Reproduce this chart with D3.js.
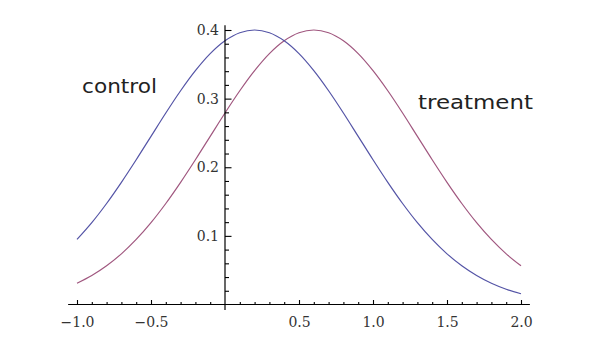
<!DOCTYPE html>
<html>
<head>
<meta charset="utf-8">
<script src="https://cdn.jsdelivr.net/npm/d3@7"></script>
<style>
  html, body { margin: 0; padding: 0; background: #fff; }
  svg { display: block; }
</style>
</head>
<body>
<svg id="chart"></svg>
<script>
// sample points, step 0.1
const xs = [-1.0, -0.9, -0.8, -0.7, -0.6, -0.5, -0.4, -0.3, -0.2, -0.1,
  0.0, 0.1, 0.2, 0.3, 0.4, 0.5, 0.6, 0.7, 0.8, 0.9,
  1.0, 1.1, 1.2, 1.3, 1.4, 1.5, 1.6, 1.7, 1.8, 1.9, 2.0];
const control = [0.0948, 0.1193, 0.1472, 0.1780, 0.2109, 0.2450, 0.2791, 0.3115, 0.3408, 0.3656,
  0.3843, 0.3960, 0.4000, 0.3960, 0.3843, 0.3656, 0.3408, 0.3115, 0.2791, 0.2450,
  0.2109, 0.1780, 0.1472, 0.1193, 0.0948, 0.0738, 0.0564, 0.0422, 0.0309, 0.0222, 0.0157];
const treatment = [0.0309, 0.0422, 0.0564, 0.0738, 0.0948, 0.1193, 0.1472, 0.1780, 0.2109, 0.2450,
  0.2791, 0.3115, 0.3408, 0.3656, 0.3843, 0.3960, 0.4000, 0.3960, 0.3843, 0.3656,
  0.3408, 0.3115, 0.2791, 0.2450, 0.2109, 0.1780, 0.1472, 0.1193, 0.0948, 0.0738, 0.0564];
const xMajor = [-1.0, -0.5, 0.5, 1.0, 1.5, 2.0];
const xMinor = [-0.9, -0.8, -0.7, -0.6, -0.4, -0.3, -0.2, -0.1, 0.1, 0.2, 0.3, 0.4,
  0.6, 0.7, 0.8, 0.9, 1.1, 1.2, 1.3, 1.4, 1.6, 1.7, 1.8, 1.9];
const yMajor = [0.1, 0.2, 0.3, 0.4];
const yMinor = [0.02, 0.04, 0.06, 0.08, 0.12, 0.14, 0.16, 0.18, 0.22, 0.24, 0.26, 0.28,
  0.32, 0.34, 0.36, 0.38];

const width = 600, height = 345;
const svg = d3.select("#chart").attr("width", width).attr("height", height);

const x = d3.scaleLinear().domain([-1, 2]).range([77, 521]);
const y = d3.scaleLinear().domain([0, 0.4]).range([304.5, 30]);

const fmt = d3.format(".1f");
const tickFont = "'DejaVu Serif', serif";

// curves
const line = d3.line()
  .x((d, i) => x(xs[i]))
  .y(d => y(d))
  .curve(d3.curveCatmullRom);

svg.append("path").datum(treatment)
  .attr("d", line).attr("fill", "none")
  .attr("stroke", "#a0577f").attr("stroke-width", 1.2);

svg.append("path").datum(control)
  .attr("d", line).attr("fill", "none")
  .attr("stroke", "#5454a6").attr("stroke-width", 1.2);

// x axis (minor and major ticks in separate groups)
const gx = svg.append("g").attr("transform", `translate(0,${y(0)})`);
gx.append("g").call(d3.axisBottom(x).tickValues(xMinor).tickSize(-2.5).tickFormat(""));
gx.append("g").call(d3.axisBottom(x).tickValues(xMajor).tickSize(-4.5).tickPadding(12.5).tickFormat(fmt));
gx.selectAll(".domain").remove();
gx.append("line")
  .attr("x1", x(-1.06)).attr("x2", x(2.06))
  .attr("stroke", "#000").attr("stroke-width", 1.2);

// y axis
const gy = svg.append("g").attr("transform", `translate(${x(0)},0)`);
gy.append("g").call(d3.axisLeft(y).tickValues(yMinor).tickSize(-4).tickFormat(""));
gy.append("g").call(d3.axisLeft(y).tickValues(yMajor).tickSize(-6.5).tickPadding(6).tickFormat(fmt));
gy.selectAll(".domain").remove();
gy.append("line")
  .attr("y1", y(-0.008)).attr("y2", y(0.407))
  .attr("stroke", "#000").attr("stroke-width", 1.2);

svg.selectAll(".tick line").attr("stroke", "#000").attr("stroke-width", 1.1);
svg.selectAll(".tick text")
  .attr("fill", "#333")
  .style("font-family", tickFont)
  .style("font-size", "14px");

// curve labels
svg.append("text")
  .attr("x", 82).attr("y", 93)
  .attr("textLength", 75).attr("lengthAdjust", "spacingAndGlyphs")
  .style("font-family", "'DejaVu Sans', sans-serif")
  .style("font-size", "19px")
  .attr("fill", "#222")
  .text("control");

svg.append("text")
  .attr("x", 418).attr("y", 109)
  .attr("textLength", 115).attr("lengthAdjust", "spacingAndGlyphs")
  .style("font-family", "'DejaVu Sans', sans-serif")
  .style("font-size", "19px")
  .attr("fill", "#222")
  .text("treatment");
</script>
</body>
</html>
